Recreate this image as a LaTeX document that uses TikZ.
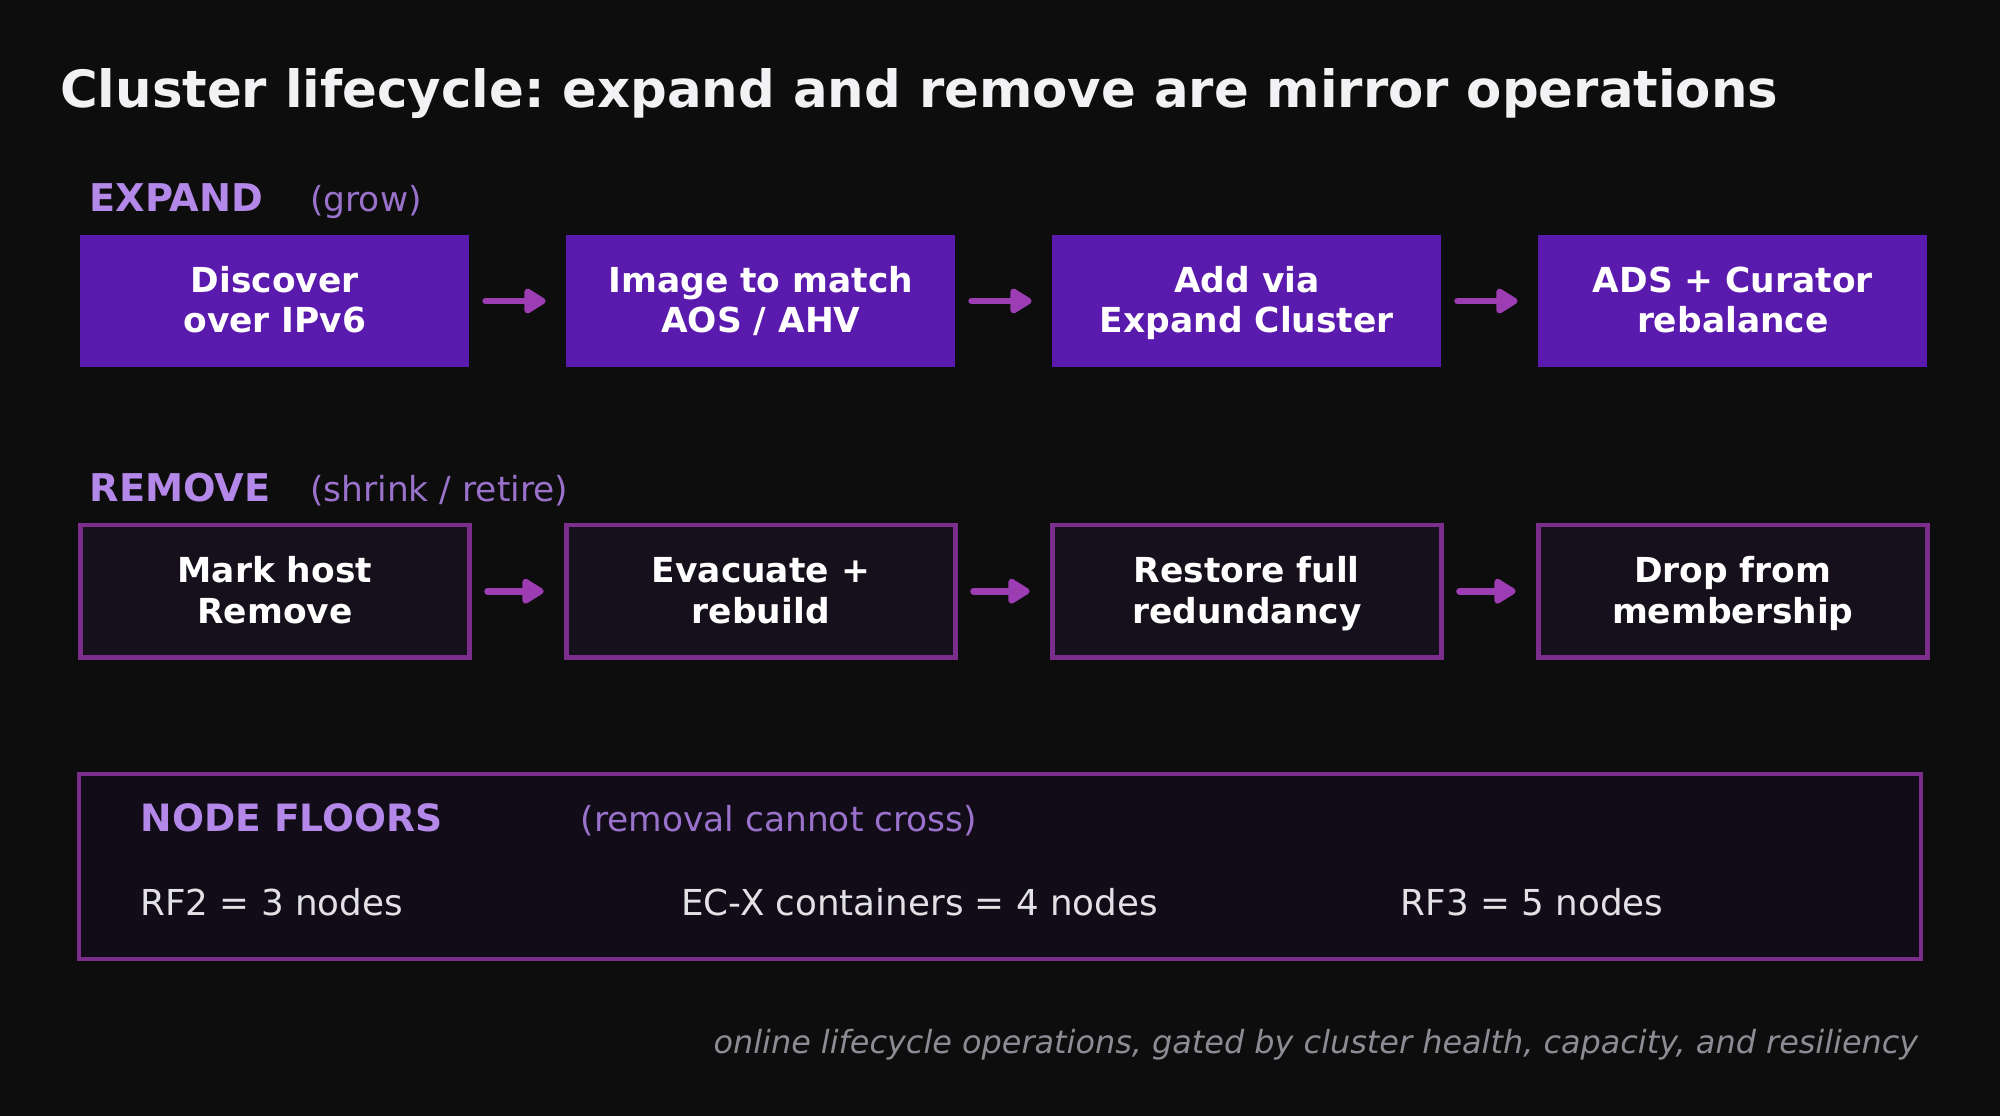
\documentclass[tikz,border=0pt]{standalone}
\usepackage{fontspec}
\setmainfont{DejaVu Sans}
\usetikzlibrary{arrows.meta}
\definecolor{bg}{HTML}{0D0D0D}
\definecolor{titlec}{HTML}{F2F2F4}
\definecolor{lab}{HTML}{B388E8}
\definecolor{sublab}{HTML}{9A72CC}
\definecolor{fillx}{HTML}{5A1AAD}
\definecolor{fillr}{HTML}{15101C}
\definecolor{fillf}{HTML}{120C18}
\definecolor{border}{HTML}{7B2D8C}
\definecolor{arrc}{HTML}{9C3DB3}
\definecolor{floorc}{HTML}{E2E2E6}
\definecolor{footc}{HTML}{8C8C94}
\newcommand\lnstrut{\rule[-6pt]{0pt}{30pt}}
\tikzset{
  expbox/.style={fill=fillx, draw=none, minimum width=305pt, minimum height=104pt, inner sep=0pt,
    text=white, font=\fontsize{27}{32}\selectfont\bfseries, align=center},
  rembox/.style={fill=fillr, draw=border, line width=3.5pt, minimum width=305pt, minimum height=104pt, inner sep=0pt,
    text=white, font=\fontsize{27}{32}\selectfont\bfseries, align=center},
  flow/.style={draw=arrc, line width=5.2pt, line cap=round, -{Triangle[length=19pt,width=22pt,round]}, shorten <=12.5pt, shorten >=16pt},
  seclab/.style={anchor=base west, text=lab, font=\fontsize{30}{34}\selectfont\bfseries, inner sep=0pt},
  subl/.style={anchor=base west, text=sublab, font=\fontsize{27}{30}\selectfont, inner sep=0pt},
  floort/.style={anchor=base west, text=floorc, font=\fontsize{28}{32}\selectfont, inner sep=0pt},
}
\begin{document}
\frenchspacing
\begin{tikzpicture}[x=1pt,y=-1pt]
\fill[bg] (0,0) rectangle (1568,875);
\useasboundingbox (0,0) rectangle (1568,875);
\node[anchor=base west, inner sep=0pt, text=titlec, font=\fontsize{40.25}{44}\selectfont\bfseries] (title) at (47,84) {Cluster lifecycle: expand and remove are mirror operations};
% EXPAND
\node[seclab] (explab) at (70,166) {EXPAND};
\node[subl] (expsub) at (243,166) {(grow)};
\node[expbox] (e1) at (215.5,236) {\lnstrut Discover\\\lnstrut over IPv6};
\node[expbox] (e2) at (596.5,236) {\lnstrut Image to match\\\lnstrut AOS / AHV};
\node[expbox] (e3) at (977.5,236) {\lnstrut Add via\\\lnstrut Expand Cluster};
\node[expbox] (e4) at (1358.5,236) {\lnstrut ADS + Curator\\\lnstrut rebalance};
\draw[flow] (e1) -- (e2);
\draw[flow] (e2) -- (e3);
\draw[flow] (e3) -- (e4);
% REMOVE
\node[seclab] (remlab) at (70,393) {REMOVE};
\node[subl] (remsub) at (243,393) {(shrink / retire)};
\node[rembox] (r1) at (215.5,463.5) {\lnstrut Mark host\\\lnstrut Remove};
\node[rembox] (r2) at (596.5,463.5) {\lnstrut Evacuate +\\\lnstrut rebuild};
\node[rembox] (r3) at (977.5,463.5) {\lnstrut Restore full\\\lnstrut redundancy};
\node[rembox] (r4) at (1358.5,463.5) {\lnstrut Drop from\\\lnstrut membership};
\draw[flow] (r1) -- (r2);
\draw[flow] (r2) -- (r3);
\draw[flow] (r3) -- (r4);
% NODE FLOORS
\node[fill=fillf, draw=border, line width=3.5pt, minimum width=1444pt, minimum height=145pt, inner sep=0pt] (floors) at (784,679.5) {};
\node[seclab, font=\fontsize{29.5}{34}\selectfont\bfseries] (flab) at (110,652) {NODE FLOORS};
\node[subl] (fsub) at (455,652) {(removal cannot cross)};
\node[floort] (f1) at (110,718) {RF2 = 3 nodes};
\node[floort] (f2) at (534,718) {EC-X containers = 4 nodes};
\node[floort] (f3) at (1098,718) {RF3 = 5 nodes};
% footer
\node[anchor=base east, inner sep=0pt, text=footc, font=\fontsize{25}{28}\selectfont\itshape] (foot) at (1504,826) {online lifecycle operations, gated by cluster health, capacity, and resiliency};
\end{tikzpicture}
\end{document}
